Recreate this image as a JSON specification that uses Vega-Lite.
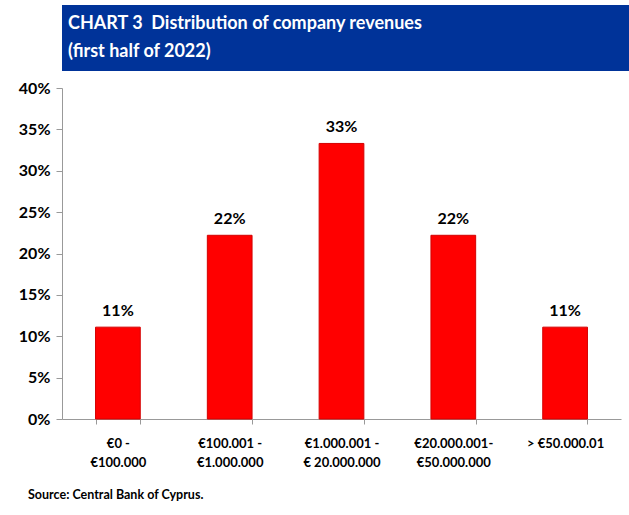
{
  "$schema": "https://vega.github.io/schema/vega-lite/v6.json",
  "padding": {"left": 5, "top": 5, "right": 0, "bottom": 0},
  "background": "white",
  "spacing": 9,
  "align": "none",
  "bounds": "full",
  "config": {"font": "Lato", "view": {"stroke": null}},
  "vconcat": [
    {
      "width": 624,
      "height": 66,
      "view": {"fill": "#003399", "stroke": null},
      "data": {"values": [
        {"line": 1, "text": "CHART 3\u00a0 Distribution of company revenues"},
        {"line": 2, "text": "(first half of 2022)"}
      ]},
      "mark": {"type": "text", "align": "left", "baseline": "middle", "color": "white", "font": "Lato", "fontWeight": "bold", "fontSize": 18, "dx": 6},
      "encoding": {
        "x": {"datum": 0, "type": "quantitative", "scale": {"domain": [0, 1]}, "axis": null},
        "y": {"field": "line", "type": "ordinal", "scale": {"padding": 0.72}, "axis": null},
        "text": {"field": "text"}
      }
    },
    {
      "width": 559,
      "height": 331,
      "title": {"text": "Source: Central Bank of Cyprus.", "orient": "bottom", "anchor": "start", "frame": "group", "font": "Lato", "fontSize": 12.5, "fontWeight": "bold", "color": "black", "dx": -34, "offset": 20},
      "data": {"values": [
        {"cat": "€0 - €100.000", "lbl": "€0 -|€100.000", "value": 0.111},
        {"cat": "€100.001 - €1.000.000", "lbl": "€100.001 -|€1.000.000", "value": 0.222},
        {"cat": "€1.000.001 - € 20.000.000", "lbl": "€1.000.001 -|€ 20.000.000", "value": 0.333},
        {"cat": "€20.000.001- €50.000.000", "lbl": "€20.000.001-|€50.000.000", "value": 0.222},
        {"cat": "> €50.000.01", "lbl": "> €50.000.01", "value": 0.111}
      ]},
      "encoding": {
        "x": {
          "field": "lbl", "type": "nominal", "sort": null, "title": null,
          "scale": {"paddingInner": 0.6, "paddingOuter": 0.3},
          "axis": {
            "labelExpr": "split(datum.label, '|')",
            "labelAngle": 0, "labelFont": "Lato", "labelFontSize": 13, "labelFontWeight": "bold", "labelColor": "black",
            "labelLineHeight": 19, "labelPadding": 13, "labelBaseline": "top",
            "tickBand": "extent", "tickColor": "#999999", "tickSize": 5, "domainColor": "#999999"
          }
        },
        "y": {
          "field": "value", "type": "quantitative", "title": null,
          "scale": {"domain": [0, 0.4]},
          "axis": {
            "values": [0, 0.05, 0.1, 0.15, 0.2, 0.25, 0.3, 0.35, 0.4], "format": ".0%", "grid": false,
            "labelFont": "Lato", "labelFontSize": 16, "labelFontWeight": "bold", "labelColor": "black",
            "tickColor": "#999999", "tickSize": 6, "domainColor": "#999999", "labelPadding": 6, "minExtent": 57
          }
        }
      },
      "layer": [
        {"mark": {"type": "bar", "color": "#ff0000", "stroke": "#d40000", "strokeWidth": 1}},
        {"mark": {"type": "text", "font": "Lato", "fontSize": 16, "fontWeight": "bold", "color": "black", "baseline": "bottom", "dy": -8},
         "encoding": {"text": {"field": "value", "type": "quantitative", "format": ".0%"}}}
      ]
    }
  ]
}
